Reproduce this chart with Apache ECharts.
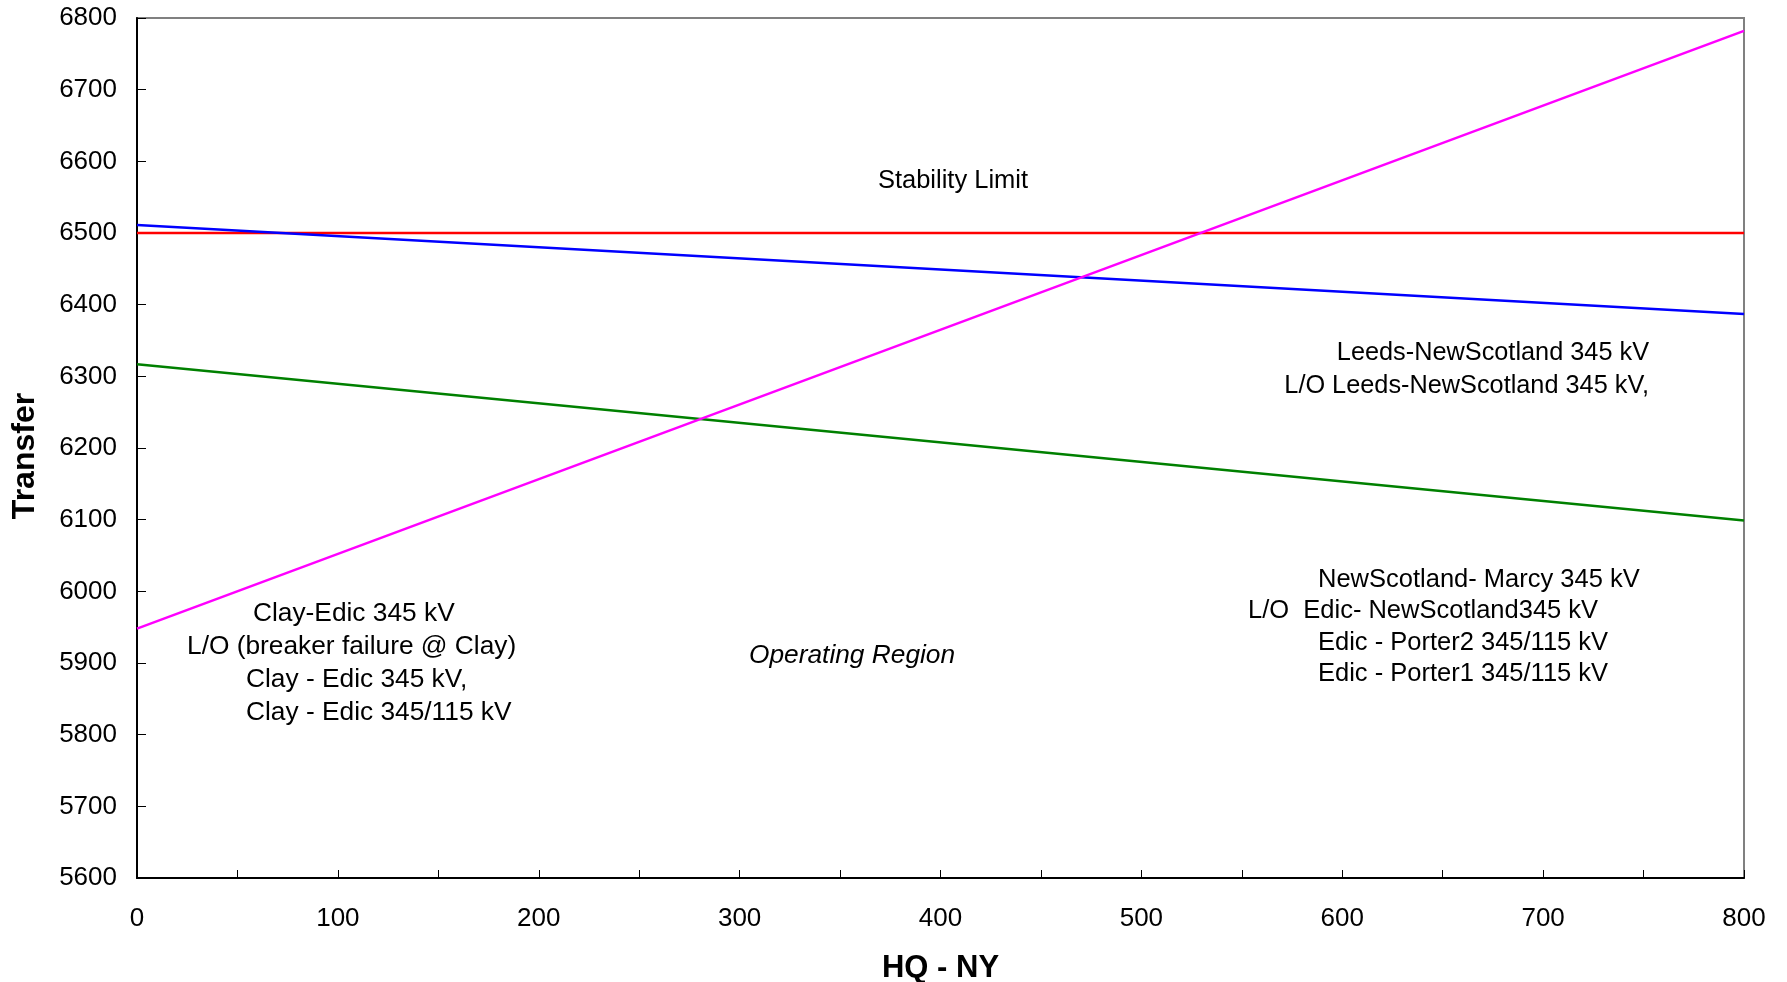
<!DOCTYPE html>
<html>
<head>
<meta charset="utf-8">
<script src="https://cdn.jsdelivr.net/npm/echarts@6/dist/echarts.min.js"></script>
<style>
html,body{margin:0;padding:0;background:#fff;}
#chart{width:1787px;height:982px;}
</style>
</head>
<body>
<div id="chart"></div>
<script>
const hqNy = [0, 800];
const stabilityLimit = [6500, 6500];
const leedsNewScotland = [6511, 6387];
const edicNewScotland = [6317, 6099];
const clayEdic = [5948, 6782];

const FONT = "'Liberation Sans', Arial, sans-serif";
const pairs = (ys) => hqNy.map((x, i) => [x, ys[i]]);

const chart = echarts.init(document.getElementById('chart'), null, {renderer: 'canvas'});

function txt(text, x, y, align, size, extra) {
  return {
    type: 'text', x: x, y: y, z: 100,
    style: Object.assign({
      text: text, fill: '#000', fontSize: size, fontFamily: FONT,
      textAlign: align, textVerticalAlign: 'middle'
    }, extra || {})
  };
}

const option = {
  backgroundColor: '#fff',
  animation: false,
  grid: {left: 137, right: 43, top: 18, bottom: 104, show: true, borderColor: '#808080', borderWidth: 2,
         backgroundColor: 'transparent', outerBoundsMode: 'none', containLabel: false},
  xAxis: {
    type: 'value', min: 0, max: 800, interval: 100,
    name: 'HQ - NY', nameLocation: 'middle', nameGap: 75,
    nameTextStyle: {fontSize: 31, fontWeight: 'bold', color: '#000', fontFamily: FONT},
    axisLine: {show: true, onZero: false, lineStyle: {color: '#000', width: 2}},
    axisTick: {show: true, inside: true, length: 8, lineStyle: {color: '#000', width: 1}},
    minorTick: {show: true, splitNumber: 2, length: 8, lineStyle: {color: '#000', width: 1}},
    axisLabel: {fontSize: 26, color: '#000', fontFamily: FONT, margin: 28},
    splitLine: {show: false}
  },
  yAxis: {
    type: 'value', min: 5600, max: 6800, interval: 100,
    axisLine: {show: true, onZero: false, lineStyle: {color: '#000', width: 2}},
    axisTick: {show: true, inside: true, length: 9, lineStyle: {color: '#000', width: 1}},
    axisLabel: {fontSize: 26, color: '#000', fontFamily: FONT, margin: 20, padding: [3, 0, 0, 0],
                formatter: (v) => String(v)},
    splitLine: {show: false}
  },
  series: [
    {name: 'Stability Limit', type: 'line', data: pairs(stabilityLimit), showSymbol: false, lineStyle: {color: '#FF0000', width: 2.5}},
    {name: 'Leeds-NewScotland', type: 'line', data: pairs(leedsNewScotland), showSymbol: false, lineStyle: {color: '#0000FF', width: 2.5}},
    {name: 'Edic-NewScotland', type: 'line', data: pairs(edicNewScotland), showSymbol: false, lineStyle: {color: '#008000', width: 2.5}},
    {name: 'Clay-Edic', type: 'line', data: pairs(clayEdic), showSymbol: false, lineStyle: {color: '#FF00FF', width: 2.5}}
  ],
  graphic: [
    {type: 'text', x: 25, y: 456, rotation: Math.PI / 2, z: 100,
     style: {text: 'Transfer', fill: '#000', fontSize: 32, fontWeight: 'bold', fontFamily: FONT,
             textAlign: 'center', textVerticalAlign: 'middle'}},
    txt('Stability Limit', 953, 181, 'center', 25.5),
    txt('Leeds-NewScotland 345 kV', 1649, 353, 'right', 25.3),
    txt('L/O Leeds-NewScotland 345 kV,', 1649, 386, 'right', 25.3),
    txt('NewScotland- Marcy 345 kV', 1318, 580, 'left', 25.5),
    txt('L/O  Edic- NewScotland345 kV', 1248, 611, 'left', 25.5),
    txt('Edic - Porter2 345/115 kV', 1318, 643, 'left', 25.5),
    txt('Edic - Porter1 345/115 kV', 1318, 674, 'left', 25.5),
    txt('Clay-Edic 345 kV', 253, 614, 'left', 26.3),
    txt('L/O (breaker failure @ Clay)', 187, 647, 'left', 26.3),
    txt('Clay - Edic 345 kV,', 246, 680, 'left', 26.3),
    txt('Clay - Edic 345/115 kV', 246, 713, 'left', 26.3),
    txt('Operating Region', 749, 656, 'left', 26.3, {fontStyle: 'italic'})
  ]
};
chart.setOption(option);
</script>
</body>
</html>
